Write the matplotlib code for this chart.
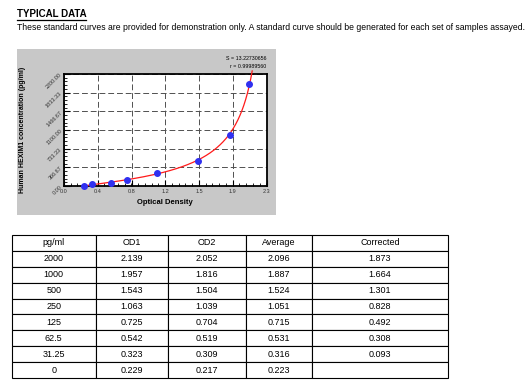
import numpy as np
import matplotlib
matplotlib.use("Agg")
import matplotlib.pyplot as plt
from matplotlib.lines import Line2D
from matplotlib.patches import Rectangle
from matplotlib.ticker import AutoMinorLocator

plt.rcParams['font.family'] = ['Liberation Sans', 'DejaVu Sans']

# standard data
conc = [2000, 1000, 500, 250, 125, 62.5, 31.25, 0]
od1 = [2.139, 1.957, 1.543, 1.063, 0.725, 0.542, 0.323, 0.229]
od2 = [2.052, 1.816, 1.504, 1.039, 0.704, 0.519, 0.309, 0.217]
avg = [2.096, 1.887, 1.524, 1.051, 0.715, 0.531, 0.316, 0.223]
corrected = [1.873, 1.664, 1.301, 0.828, 0.492, 0.308, 0.093, None]

col_labels = ["pg/ml", "OD1", "OD2", "Average", "Corrected"]
x_ticks = [0.0, 0.383, 0.767, 1.15, 1.533, 1.917, 2.3]
x_tick_labels = ["0.0", "0.4", "0.8", "1.2", "1.5", "1.9", "2.3"]
y_ticks = [0, 366.67, 733.33, 1100, 1466.67, 1833.33, 2200]
y_tick_labels = ["0.00", "366.67", "733.33", "1100.00", "1466.67", "1833.33", "2200.00"]

# 4PL fit: OD = d + (a-d)/(1+(c/C)^b), linear in a,d for fixed b,C
cx = np.array(conc, dtype=float)
oy = np.array(avg)
best = None
for b in np.linspace(0.4, 3.0, 131):
    for C in np.geomspace(50, 20000, 300):
        g = 1.0 / (1.0 + (cx / C) ** b)
        A = np.column_stack([g, 1 - g])
        sol, *_ = np.linalg.lstsq(A, oy, rcond=None)
        err = np.sum((A @ sol - oy) ** 2)
        if best is None or err < best[0]:
            best = (err, b, C, sol[0], sol[1])
_, fb, fC, fa, fd = best
cc = np.linspace(0, 2260, 400)
curve_od = fd + (fa - fd) / (1 + (cc / fC) ** fb)

fig = plt.figure(figsize=(5.27, 3.85), dpi=100)

# heading
fig.text(17 / 527, 1 - 14 / 385, "TYPICAL DATA", fontsize=7.0, fontweight="bold",
         ha="left", va="center")
fig.add_artist(Line2D([17 / 527, 86 / 527], [1 - 19.5 / 385] * 2, color="black", lw=0.9))
fig.text(17 / 527, 1 - 28 / 385,
         "These standard curves are provided for demonstration only. "
         "A standard curve should be generated for each set of samples assayed.",
         fontsize=6.2, ha="left", va="center")

# grey panel behind the chart
fig.add_artist(Rectangle((17 / 527, 1 - 215 / 385), 259 / 527, 166 / 385,
                         transform=fig.transFigure, facecolor="#c8c8c8",
                         edgecolor="none", zorder=0))

ax = fig.add_axes([64 / 527, 1 - 186 / 385, 202.5 / 527, 112 / 385])
ax.set_facecolor("white")
ax.set_xlim(0, 2.3)
ax.set_ylim(0, 2200)
ax.set_xticks(x_ticks)
ax.set_xticklabels(x_tick_labels, fontsize=4, color="#333333")
ax.set_yticks(y_ticks)
ax.set_yticklabels(y_tick_labels, fontsize=4, color="#333333", rotation=45,
                   ha="right", va="center", rotation_mode="anchor")
ax.xaxis.set_minor_locator(AutoMinorLocator(5))
ax.yaxis.set_minor_locator(AutoMinorLocator(5))
ax.tick_params(which="major", direction="in", length=4, width=0.8, pad=2)
ax.tick_params(which="minor", direction="in", length=2, width=0.6)
for s in ax.spines.values():
    s.set_linewidth(1.3)
ax.grid(True, which="major", color="#505050", linestyle=(0, (6, 3)), linewidth=0.7)

ax.plot(curve_od, cc, color="#ff1a1a", lw=0.9, clip_on=False, zorder=3)
ax.scatter(avg, conc, s=16, color="#3030f0", zorder=4, clip_on=False)

ax.set_xlabel("Optical Density", fontsize=5.5, fontweight="bold", labelpad=4)
ax.set_ylabel("Human HEXIM1 concentration (pg/ml)", fontsize=5, fontweight="bold",
              labelpad=14)

fig.text(266 / 527, 1 - 58 / 385, "S = 13.22730656", fontsize=3.8, ha="right", va="center")
fig.text(266 / 527, 1 - 66 / 385, "r = 0.99989560", fontsize=3.8, ha="right", va="center")

# data table
tax = fig.add_axes([12 / 527, 1 - 378 / 385, 436 / 527, 143 / 385])
tax.axis("off")
cells = []
for i in range(len(conc)):
    cells.append([f"{conc[i]:g}", f"{od1[i]:.3f}", f"{od2[i]:.3f}", f"{avg[i]:.3f}",
                  "" if corrected[i] is None else f"{corrected[i]:.3f}"])
widths = np.array([83.5, 72, 78, 66.5, 136])
tbl = tax.table(cellText=cells, colLabels=col_labels, colWidths=list(widths / widths.sum()),
                cellLoc="center", bbox=[0, 0, 1, 1])
tbl.auto_set_font_size(False)
tbl.set_fontsize(6.5)
for cell in tbl.get_celld().values():
    cell.set_linewidth(0.8)
    cell.set_edgecolor("black")

fig.savefig("out.png", dpi=100)
